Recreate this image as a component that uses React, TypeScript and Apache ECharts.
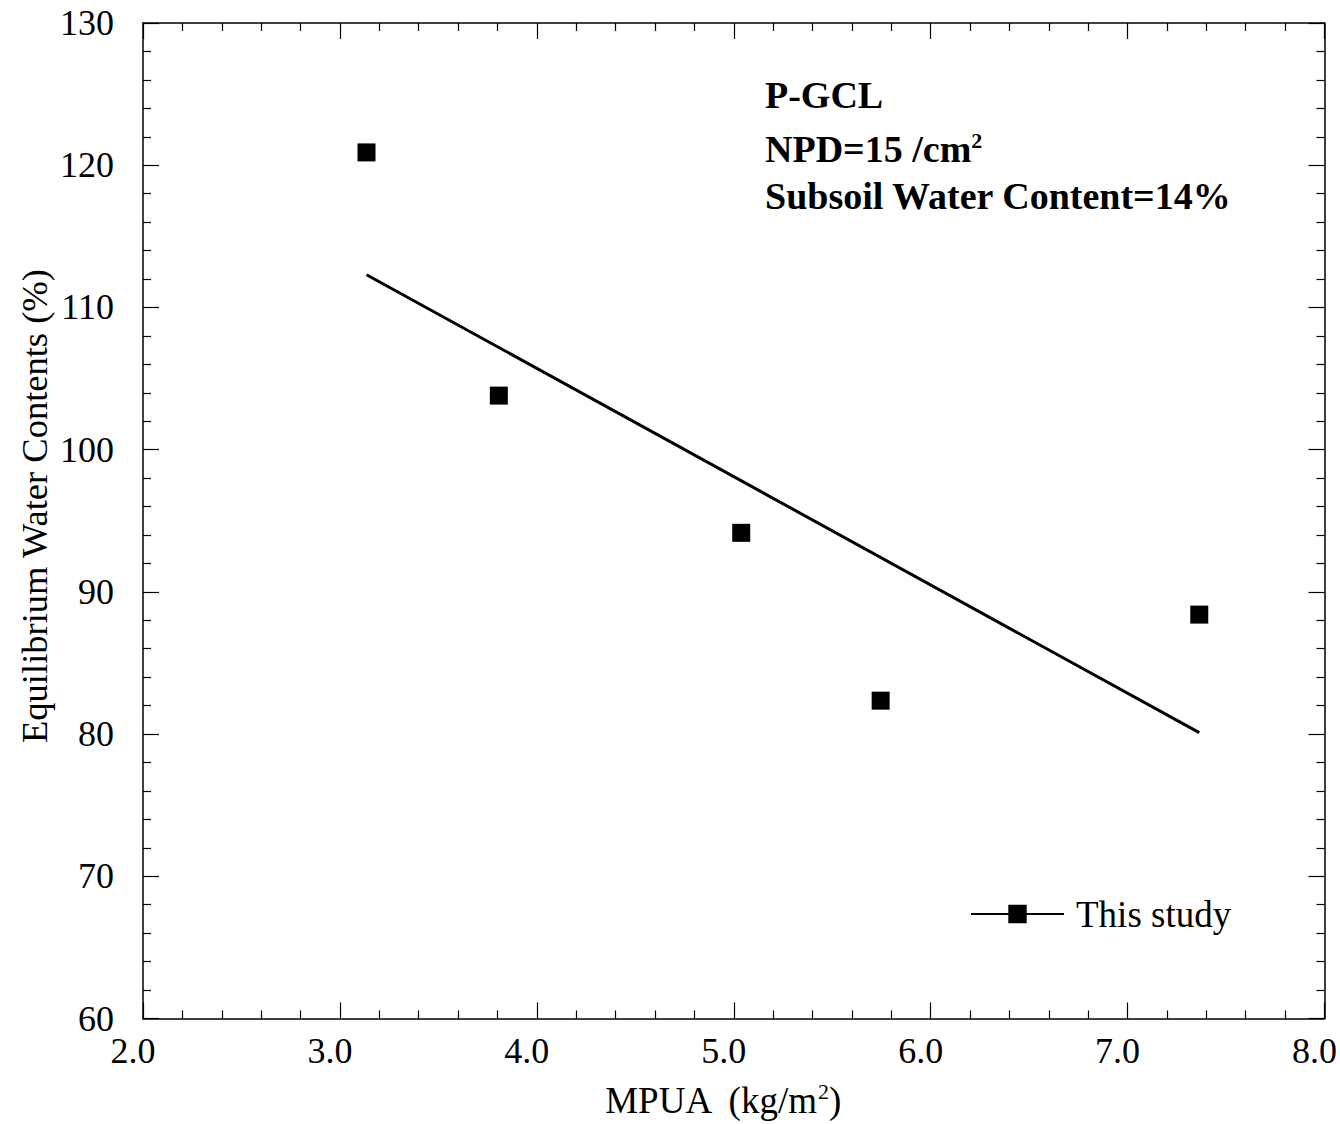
import React, { useEffect, useRef } from "react";
import * as echarts from "echarts";

const pointX = [3.135, 3.807, 5.038, 5.746, 7.364];
const pointY = [120.9, 103.8, 94.15, 82.35, 88.4];
const fitX = [3.135, 7.364];
const fitY = [112.3, 80.1];
const seriesName = "This study";
const xTitle = "MPUA  (kg/m";
const yTitle = "Equilibrium Water Contents (%)";
const annotations = ["P-GCL", "NPD=15 /cm", "Subsoil Water Content=14%"];

const FONT = "'Liberation Serif', 'Times New Roman', serif";

export default function App() {
  const ref = useRef<HTMLDivElement>(null);
  useEffect(() => {
    if (!ref.current) return;
    const chart = echarts.init(ref.current, undefined, { renderer: "svg" });
    const axisCommon = {
      axisLine: { show: true, onZero: false, lineStyle: { color: "#000", width: 1.5 } },
      axisTick: { show: true, inside: true, length: 16, lineStyle: { color: "#000", width: 1.2 } },
      minorTick: { show: true, splitNumber: 5, length: 8, lineStyle: { color: "#000", width: 1.2 } },
      splitLine: { show: false },
      minorSplitLine: { show: false },
    };
    const xBase = { type: "value", min: 2, max: 8, interval: 1, ...axisCommon };
    const yBase = { type: "value", min: 60, max: 130, interval: 10, ...axisCommon };
    chart.setOption({
      animation: false,
      backgroundColor: "#fff",
      textStyle: { fontFamily: FONT },
      grid: { left: 143, top: 23, right: 15, bottom: 105, containLabel: false },
      xAxis: [
        {
          ...xBase,
          position: "bottom",
          axisLabel: {
            color: "#000",
            fontSize: 36,
            fontFamily: FONT,
            margin: 14,
            padding: [0, 20, 0, 0],
            formatter: (v: number) => v.toFixed(1),
          },
          name: `{a|${xTitle}}{s|2}{a|)}`,
          nameLocation: "middle",
          nameGap: 62,
          nameTextStyle: {
            padding: [0, 22, 0, 0],
            rich: {
              a: { fontSize: 37, fontFamily: FONT, color: "#000", lineHeight: 40 },
              s: { fontSize: 22, fontFamily: FONT, color: "#000", verticalAlign: "top", lineHeight: 40, padding: [0, 0, 12, 0] },
            },
          },
        },
        { ...xBase, position: "top", axisLabel: { show: false } },
      ],
      yAxis: [
        {
          ...yBase,
          position: "left",
          axisLabel: { color: "#000", fontSize: 36, fontFamily: FONT, margin: 29 },
        },
        { ...yBase, position: "right", axisLabel: { show: false } },
      ],
      legend: {
        show: true,
        left: 970,
        top: 894,
        padding: 0,
        itemWidth: 93,
        itemHeight: 23,
        data: [seriesName],
        textStyle: { fontSize: 37, fontFamily: FONT, color: "#000", lineHeight: 40, padding: [0, 0, 0, 7] },
        selectedMode: false,
      },
      series: [
        {
          name: "fit",
          type: "line",
          data: fitX.map((x, i) => [x, fitY[i]]),
          showSymbol: false,
          symbol: "none",
          lineStyle: { color: "#000", width: 3 },
          silent: true,
        },
        {
          name: "points",
          type: "scatter",
          data: pointX.map((x, i) => [x, pointY[i]]),
          symbol: "rect",
          symbolSize: 18,
          itemStyle: { color: "#000", opacity: 1 },
        },
        {
          name: seriesName,
          type: "line",
          data: [],
          symbol: "rect",
          symbolSize: 18,
          itemStyle: { color: "#000", opacity: 1 },
          lineStyle: { color: "#000", width: 3 },
        },
      ],
      graphic: [
        {
          type: "text",
          x: 34,
          y: 506,
          rotation: Math.PI / 2,
          style: {
            text: yTitle,
            font: `36.5px ${FONT}`,
            fill: "#000",
            align: "center",
            verticalAlign: "middle",
          },
        },
        {
          type: "text",
          x: 765,
          y: 95,
          style: { text: annotations[0], font: `bold 38px ${FONT}`, fill: "#000", verticalAlign: "middle" },
        },
        {
          type: "text",
          x: 765,
          y: 149,
          style: {
            text: `{a|${annotations[1]}}{s|2}`,
            fill: "#000",
            verticalAlign: "middle",
            rich: {
              a: { font: `bold 38px ${FONT}`, fill: "#000", lineHeight: 40 },
              s: { font: `bold 22px ${FONT}`, fill: "#000", verticalAlign: "top", lineHeight: 40, padding: [0, 0, 12, 0] },
            },
          },
        },
        {
          type: "text",
          x: 765,
          y: 196,
          style: { text: annotations[2], font: `bold 38px ${FONT}`, fill: "#000", verticalAlign: "middle" },
        },
      ],
    });
    return () => chart.dispose();
  }, []);
  return (
    <div
      ref={ref}
      style={{ position: "absolute", left: 0, top: 0, width: 1340, height: 1124 }}
    />
  );
}
